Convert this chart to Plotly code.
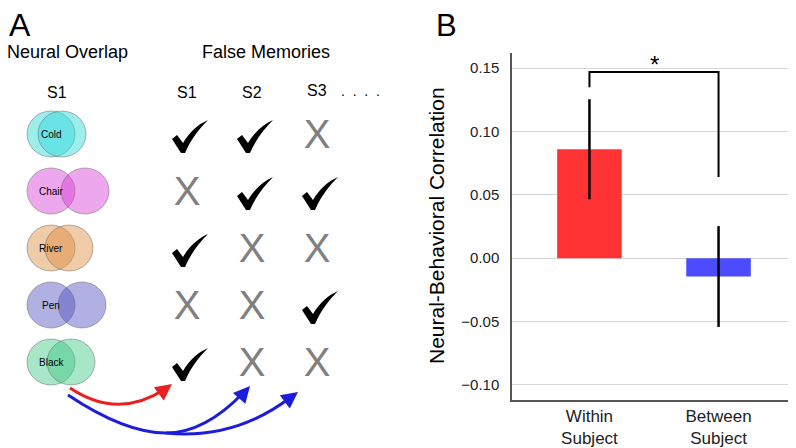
import plotly.graph_objects as go

# ---- Panel B data ----
conditions = ["Within<br>Subject", "Between<br>Subject"]
correlation = [0.086, -0.0145]
sem = [0.0395, 0.0398]
bar_colors = ["#ff3333", "#4b4bff"]
y_ticks = [-0.10, -0.05, 0.00, 0.05, 0.10, 0.15]
bracket_top = 0.147
bracket_left_end = 0.135
bracket_right_end = 0.064

# ---- Panel A data (schematic) ----
words = ["Cold", "Chair", "River", "Pen", "Black"]
circle_separation = [11, 34, 18, 31, 20]
circle_rgb = ["40,215,215", "215,60,215", "220,140,60", "80,80,190", "60,200,130"]
subjects = ["S1", "S2", "S3"]
false_memory = [
    [1, 1, 0],
    [0, 1, 1],
    [1, 0, 0],
    [0, 0, 1],
    [1, 0, 0],
]

W, H = 796, 448
OFF = 8  # the page body adds an 8px margin; pull everything back by that
FONT = "Liberation Sans, Arial, sans-serif"

# schematic layout (screen pixels of the left panel)
row_y0, row_step = 134, 57
col_x0, col_step = 187, 65
circle_x, rx, ry = 51, 24, 23


def px(x):
    return (x - OFF) / W


def py(y):
    return 1 - (y - OFF) / H


def check_path(x0, y0):
    # calligraphic tick: thick short stroke, long tapering up-stroke
    pts = ("M {a},{b} L {c},{d} L {e},{f} "
           "C {g},{h} {i},{j} {k},{l} "
           "C {m},{n} {o},{p} {q},{r} L {s},{r} Z")
    return pts.format(
        a=x0, b=y0 + 19, c=x0 + 5, d=y0 + 15, e=x0 + 11, f=y0 + 23,
        g=x0 + 18, h=y0 + 11, i=x0 + 27, j=y0 + 4, k=x0 + 36, l=y0,
        m=x0 + 28, n=y0 + 8, o=x0 + 19, p=y0 + 19, q=x0 + 13, r=y0 + 33,
        s=x0 + 9)


fig = go.Figure()

# ---- Panel B ----
fig.add_trace(go.Bar(
    x=conditions,
    y=correlation,
    width=0.5,
    marker=dict(color=bar_colors, line=dict(width=0)),
    error_y=dict(type="data", array=sem, color="black", thickness=2.5, width=0),
    xaxis="x", yaxis="y",
    showlegend=False,
    hoverinfo="skip",
))

fig.add_trace(go.Scatter(
    x=[conditions[0], conditions[0], conditions[1], conditions[1]],
    y=[bracket_left_end, bracket_top, bracket_top, bracket_right_end],
    mode="lines",
    line=dict(color="black", width=2),
    xaxis="x", yaxis="y",
    showlegend=False,
    hoverinfo="skip",
))

# ---- Panel A: check marks and crosses ----
shapes = []
cross_x, cross_y = [], []
for i, row in enumerate(false_memory):
    for j, hit in enumerate(row):
        xx = col_x0 + col_step * j
        yy = row_y0 + row_step * i
        if hit:
            shapes.append(dict(
                type="path", xref="x2", yref="y2",
                path=check_path(xx - 15, yy - 14),
                fillcolor="black", line=dict(width=0)))
        else:
            cross_x.append(xx)
            cross_y.append(yy + 4)

fig.add_trace(go.Scatter(
    x=cross_x, y=cross_y, mode="text", text=["X"] * len(cross_x),
    textfont=dict(family=FONT, size=40, color="#808080"),
    xaxis="x2", yaxis="y2", showlegend=False, hoverinfo="skip",
))

for i, word in enumerate(words):
    cy = row_y0 + row_step * i
    for cx in [circle_x, circle_x + circle_separation[i]]:
        shapes.append(dict(
            type="circle", xref="x2", yref="y2",
            x0=cx - rx, x1=cx + rx, y0=cy - ry, y1=cy + ry,
            fillcolor=f"rgba({circle_rgb[i]},0.45)",
            line=dict(color="rgba(90,90,90,0.45)", width=1),
            layer="below",
        ))

# arrows from "Black" to the false memories
shapes.append(dict(type="path", xref="x2", yref="y2",
                   path="M 70,388 Q 118,420 165,389",
                   line=dict(color="#e8201f", width=3)))
shapes.append(dict(type="path", xref="x2", yref="y2",
                   path="M 68,395 Q 125,433 166,433 Q 205,433 244,392",
                   line=dict(color="#1c1cdc", width=3)))
shapes.append(dict(type="path", xref="x2", yref="y2",
                   path="M 166,433 Q 235,440 291,397",
                   line=dict(color="#1c1cdc", width=3)))

annotations = []


def label(text, x, y, size, **kw):
    annotations.append(dict(
        text=text, x=px(x), y=py(y), xref="paper", yref="paper",
        showarrow=False, xanchor="center", yanchor="middle",
        font=dict(family=FONT, size=size, color="black"), **kw))


label("A", 20, 25, 32)
label("B", 446, 25, 31)
label("Neural Overlap", 68, 52, 18)
label("False Memories", 266, 52, 18)
label("S1", 57, 93, 16)
for j, s in enumerate(subjects):
    label(s, col_x0 + col_step * j, 92 if j < 2 else 90, 16)
label(".\u00a0\u00a0.\u00a0\u00a0.\u00a0\u00a0.", 360, 91, 14)
label("Neural-Behavioral Correlation", 437, 226, 21, textangle=-90)

for i, word in enumerate(words):
    annotations.append(dict(
        text=word, x=circle_x, y=row_y0 + row_step * i, xref="x2", yref="y2",
        showarrow=False, xanchor="center", yanchor="middle",
        font=dict(family=FONT, size=10, color="black")))

for tip, back, color in [((172, 384), (-8, 6), "#e8201f"),
                         ((250, 386), (-7, 8), "#1c1cdc"),
                         ((298, 392), (-8, 6), "#1c1cdc")]:
    annotations.append(dict(
        text="", x=tip[0], y=tip[1], xref="x2", yref="y2",
        ax=back[0], ay=back[1], showarrow=True,
        arrowhead=2, arrowsize=1.1, arrowwidth=3, arrowcolor=color,
        standoff=0))

annotations.append(dict(
    text="*", x=0.5, y=0.153, xref="x", yref="y", showarrow=False,
    xanchor="center", yanchor="middle",
    font=dict(family=FONT, size=24, color="black")))

fig.update_layout(
    width=W, height=H,
    autosize=False,
    margin=dict(l=0, r=0, t=0, b=0, autoexpand=False),
    paper_bgcolor="white",
    plot_bgcolor="white",
    font=dict(family=FONT, color="#222"),
    xaxis=dict(
        domain=[px(512), px(796)],
        type="category",
        range=[-0.6, 1.6],
        automargin=False,
        showline=True, linecolor="#555", linewidth=1.5,
        showgrid=False, ticks="",
        tickfont=dict(size=17, color="#222"),
        fixedrange=True,
    ),
    yaxis=dict(
        domain=[py(400), py(53)],
        range=[-0.112, 0.162],
        automargin=False,
        tickvals=y_ticks,
        tickformat=".2f",
        showline=True, linecolor="#555", linewidth=1.5,
        showgrid=True, gridcolor="#d6d6d6", gridwidth=1,
        zeroline=False, ticks="",
        ticklabelstandoff=8,
        tickfont=dict(size=15, color="#222"),
        fixedrange=True,
    ),
    xaxis2=dict(domain=[0, px(408)], range=[OFF, 408], visible=False,
                fixedrange=True, anchor="y2", automargin=False),
    yaxis2=dict(domain=[0, 1], range=[H + OFF, OFF], visible=False,
                fixedrange=True, anchor="x2", automargin=False),
    shapes=shapes,
    annotations=annotations,
)

fig.write_html("out.html")
